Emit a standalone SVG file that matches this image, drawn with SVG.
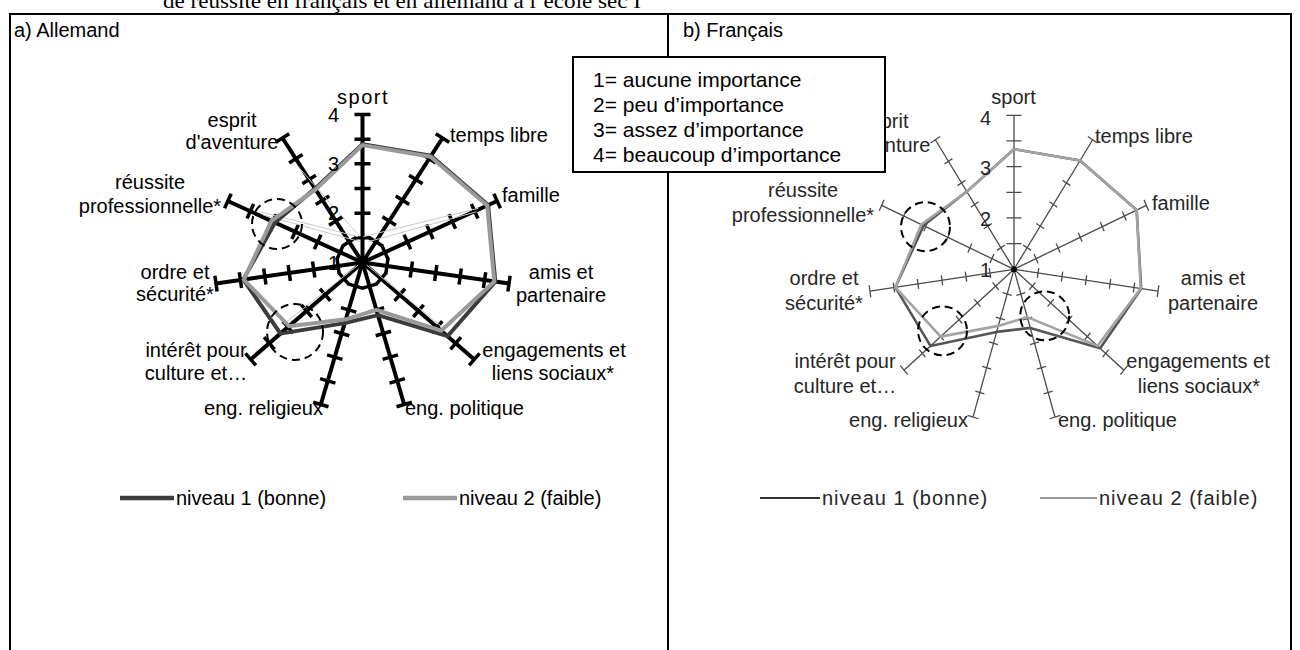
<svg xmlns="http://www.w3.org/2000/svg" width="1300" height="650" viewBox="0 0 1300 650">
<style>
  .t { font-family: "Liberation Sans", Arial, sans-serif; font-size: 20px; fill: #000; }
  .tr { font-family: "Liberation Sans", Arial, sans-serif; font-size: 20px; fill: #262626; }
  .m { text-anchor: middle; }
  .e { text-anchor: end; }
  .frame { stroke: #000; stroke-width: 2; fill: none; }
  .axA { stroke: #000; stroke-width: 4; fill: none; }
  .tkA { stroke: #000; stroke-width: 3.5; fill: none; }
  .axB { stroke: #4a4a4a; stroke-width: 1.3; fill: none; }
  .s1A { fill: none; stroke: #3c3c3c; stroke-width: 4; stroke-linejoin: round; }
  .s2A { fill: none; stroke: #9a9a9a; stroke-width: 4; stroke-linejoin: round; }
  .s1B { fill: none; stroke: #555; stroke-width: 2.6; stroke-linejoin: round; }
  .s2B { fill: none; stroke: #a3a3a3; stroke-width: 2.6; stroke-linejoin: round; }
  .faint { fill: none; stroke: #c8c8c8; stroke-width: 1; }
  .circ { fill: none; stroke: #000; stroke-width: 2; stroke-dasharray: 8 5; }
  .key { font-family: "Liberation Sans", Arial, sans-serif; font-size: 21px; fill: #000; }
</style>
<defs>
  <g id="axisA">
    <line class="axA" x1="0" y1="0" x2="0" y2="-148"/>
    <path class="tkA" d="M-8,-24.67H8M-8,-49.33H8M-8,-74H8M-8,-98.67H8M-8,-123.33H8M-8,-148H8"/>
  </g>
  <g id="axisB">
    <line class="axB" vector-effect="non-scaling-stroke" x1="0" y1="0" x2="0" y2="-154"/>
    <path class="axB" vector-effect="non-scaling-stroke" d="M-5,-25.67H5M-5,-51.33H5M-5,-77H5M-5,-102.67H5M-5,-128.33H5M-6,-154H6"/>
  </g>
</defs>

<rect width="1300" height="650" fill="#fff"/>

<text x="163" y="8" font-family="'Liberation Serif', serif" font-size="21" textLength="478" lengthAdjust="spacingAndGlyphs">de réussite en français et en allemand à l’école sec I</text>

<g id="frame">
  <path class="frame" d="M10,650V14H1291V650M668,14V650"/>
</g>

<text class="t" x="14" y="37">a) Allemand</text>
<text class="t" x="683" y="37">b) Français</text>

<!-- Chart a -->
<g id="chart-a-axes" transform="translate(362.5,262.5)">
  <use href="#axisA"/>
  <use href="#axisA" transform="rotate(32.727)"/>
  <use href="#axisA" transform="rotate(65.455)"/>
  <use href="#axisA" transform="rotate(98.182)"/>
  <use href="#axisA" transform="rotate(130.909)"/>
  <use href="#axisA" transform="rotate(163.636)"/>
  <use href="#axisA" transform="rotate(196.364)"/>
  <use href="#axisA" transform="rotate(229.091)"/>
  <use href="#axisA" transform="rotate(261.818)"/>
  <use href="#axisA" transform="rotate(294.545)"/>
  <use href="#axisA" transform="rotate(327.273)"/>
</g>
<g id="chart-a-faint">
  <path class="faint" d="M478.3,208.3L363.3,236.7M476.7,211.7L368.3,241.7M260,211.7L358.3,236.7M263.3,215L360,241.7M296.7,165L360,236.7M286.7,321.7L358.3,265M441.7,326.7L366.7,265"/>
</g>
<g id="chart-a-series" transform="translate(362.5,262.5)">
  <polygon class="s1A" points="0,-118.4 68.5,-106.7 125.6,-57.4 132.8,19.1 85,73.7 15.4,52.6 -17.8,60.6 -82,71.1 -119.2,17.1 -87.5,-40 -47.5,-73.9"/>
  <polygon class="s2A" points="0,-117.4 68,-105.8 124.7,-57 131.8,19 78.7,68.2 13.9,47.3 -16.7,56.8 -73.5,63.7 -118.7,17.1 -91.1,-41.6 -46.9,-73"/>
</g>
<g id="chart-a-scale">
  <text class="t e" x="339" y="122">4</text>
  <text class="t e" x="339" y="171">3</text>
  <text class="t e" x="339" y="220">2</text>
  <text class="t e" x="339" y="270">1</text>
</g>
<g id="chart-a-labels">
  <text class="t m" x="363" y="104" letter-spacing="1.5">sport</text>
  <text class="t" x="450" y="142">temps libre</text>
  <text class="t" x="502" y="202">famille</text>
  <text class="t m" x="561" y="279">amis et</text>
  <text class="t m" x="561" y="302">partenaire</text>
  <text class="t m" x="554" y="357">engagements et</text>
  <text class="t m" x="553" y="380">liens sociaux*</text>
  <text class="t" x="405" y="415">eng. politique</text>
  <text class="t e" x="323" y="415">eng. religieux</text>
  <text class="t m" x="196" y="357">intérêt pour</text>
  <text class="t m" x="196" y="380">culture et…</text>
  <text class="t m" x="175" y="279">ordre et</text>
  <text class="t m" x="175" y="301">sécurité*</text>
  <text class="t m" x="150" y="189">réussite</text>
  <text class="t m" x="150" y="213">professionnelle*</text>
  <text class="t m" x="232" y="127">esprit</text>
  <text class="t m" x="232" y="149">d'aventure</text>
</g>
<g id="chart-a-circles">
  <circle class="circ" cx="277" cy="224" r="25"/>
  <circle class="circ" cx="295" cy="332" r="28"/>
</g>
<g id="legend-a">
  <line x1="120" y1="498" x2="174" y2="498" stroke="#3c3c3c" stroke-width="4.5"/>
  <text class="t" x="176" y="505">niveau 1 (bonne)</text>
  <line x1="403" y1="498" x2="457" y2="498" stroke="#9a9a9a" stroke-width="4.5"/>
  <text class="t" x="459" y="505">niveau 2 (faible)</text>
</g>

<!-- Chart b -->
<g id="chart-b-axes" transform="translate(1014,269.3) scale(0.945,1)">
  <line class="axB" vector-effect="non-scaling-stroke" x1="0" y1="0" x2="0" y2="-154"/>
  <path class="axB" vector-effect="non-scaling-stroke" d="M-8,-25.67H8M-8,-51.33H8M-8,-77H8M-8,-102.67H8M-8,-128.33H8M-8,-154H8"/>
  <use href="#axisB" transform="rotate(32.727)"/>
  <use href="#axisB" transform="rotate(65.455)"/>
  <use href="#axisB" transform="rotate(98.182)"/>
  <use href="#axisB" transform="rotate(130.909)"/>
  <use href="#axisB" transform="rotate(163.636)"/>
  <use href="#axisB" transform="rotate(196.364)"/>
  <use href="#axisB" transform="rotate(229.091)"/>
  <use href="#axisB" transform="rotate(261.818)"/>
  <use href="#axisB" transform="rotate(294.545)"/>
  <use href="#axisB" transform="rotate(327.273)"/>
  <circle cx="0" cy="0" r="3" fill="#000"/>
</g>
<g id="chart-b-series" transform="translate(1014,269.3) scale(0.945,1)">
  <polygon class="s1B" vector-effect="non-scaling-stroke" points="0,-120.1 69.9,-108.8 129.8,-59.3 134.6,19.4 91.2,79 17.2,58.6 -18.4,62.6 -88.4,76.6 -125.5,18 -95.7,-43.7 -50,-77.7"/>
  <polygon class="s2B" vector-effect="non-scaling-stroke" points="0,-120.1 69.9,-108.8 129.8,-59.3 134.1,19.3 88.4,76.6 14,47.8 -16.6,56.6 -77.6,67.3 -125.5,18 -98.1,-44.8 -50,-77.7"/>
</g>
<g id="chart-b-scale">
  <text class="tr e" x="991" y="124.5">4</text>
  <text class="tr e" x="991" y="175">3</text>
  <text class="tr e" x="991" y="226">2</text>
  <text class="tr e" x="991" y="277">1</text>
</g>
<g id="chart-b-labels">
  <text class="tr m" x="1013.5" y="104">sport</text>
  <text class="tr" x="1095" y="143">temps libre</text>
  <text class="tr" x="1152" y="210">famille</text>
  <text class="tr m" x="1213" y="285">amis et</text>
  <text class="tr m" x="1213" y="310">partenaire</text>
  <text class="tr m" x="1198" y="368">engagements et</text>
  <text class="tr m" x="1199" y="393">liens sociaux*</text>
  <text class="tr" x="1058" y="427">eng. politique</text>
  <text class="tr e" x="968" y="427">eng. religieux</text>
  <text class="tr m" x="845" y="368">intérêt pour</text>
  <text class="tr m" x="845" y="393">culture et…</text>
  <text class="tr m" x="824" y="285">ordre et</text>
  <text class="tr m" x="824" y="310">sécurité*</text>
  <text class="tr m" x="803" y="197">réussite</text>
  <text class="tr m" x="803" y="222">professionnelle*</text>
  <text class="tr m" x="884" y="128">esprit</text>
  <text class="tr m" x="884" y="151.5">d'aventure</text>
</g>
<g id="chart-b-circles">
  <circle class="circ" cx="925.5" cy="226.7" r="24.5"/>
  <circle class="circ" cx="942.5" cy="330.8" r="24.5"/>
  <circle class="circ" cx="1044.7" cy="315.8" r="24.5"/>
</g>
<g id="legend-b">
  <line x1="760" y1="498" x2="820" y2="498" stroke="#333" stroke-width="2"/>
  <text class="tr" x="822" y="505" letter-spacing="1">niveau 1 (bonne)</text>
  <line x1="1040" y1="498" x2="1097" y2="498" stroke="#999" stroke-width="2"/>
  <text class="tr" x="1099" y="505" letter-spacing="1">niveau 2 (faible)</text>
</g>

<g id="scale-key">
  <rect x="573" y="57" width="312" height="115" fill="#fff" stroke="#000" stroke-width="2"/>
  <text class="key" x="593" y="86.7">1= aucune importance</text>
  <text class="key" x="593" y="111.7">2= peu d’importance</text>
  <text class="key" x="593" y="136.7">3= assez d’importance</text>
  <text class="key" x="593" y="161.7">4= beaucoup d’importance</text>
</g>
</svg>
